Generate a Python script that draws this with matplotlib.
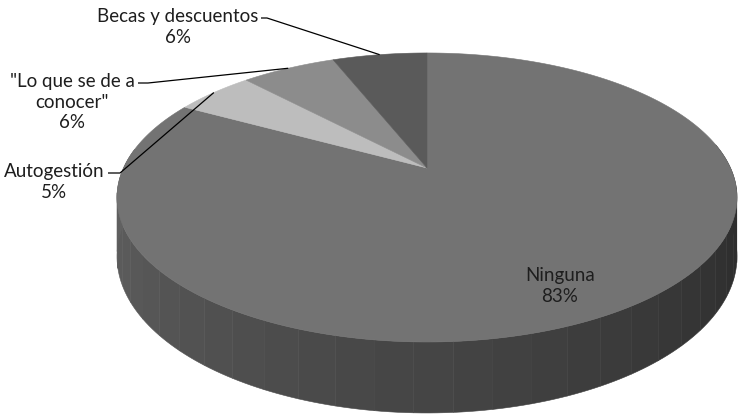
import numpy as np
import matplotlib
matplotlib.use("Agg")
import matplotlib.pyplot as plt
from matplotlib.patches import Polygon

# Data
categories = ["Ninguna", "Autogestión", "\"Lo que se de a\nconocer\"", "Becas y descuentos"]
values = [83, 5, 6, 6]
slice_colors = ["#737373", "#bdbdbd", "#8c8c8c", "#5a5a5a"]

W, H = 741, 420
fig = plt.figure(figsize=(W / 100, H / 100), dpi=100)
ax = fig.add_axes([0, 0, 1, 1])
ax.set_xlim(0, W)
ax.set_ylim(H, 0)
ax.axis("off")

# Perspective view of the pie disc
CX, CY = 427.0, 168.0
A, B, K = 303.5, 138.5, 0.204
DEPTH = 56.5


def project(t, r=1.0, z=0.0):
    t = np.asarray(t)
    u = r * np.sin(t)
    v = r * np.cos(t)
    w = 1 + K * v
    return CX + A * u / w, CY + (-B * v + z) / w


# Side wall, drawn as shaded facets
edges = np.deg2rad(np.arange(80, 281, 6))
for t0, t1 in zip(edges[:-1], edges[1:]):
    ts = np.linspace(t0, t1, 6)
    xt, yt = project(ts)
    xb, yb = project(ts[::-1], z=DEPTH)
    mid = np.rad2deg((t0 + t1) / 2)
    g = np.clip(0.17 + (mid - 100) / 160 * 0.20, 0.16, 0.38)
    pts = np.column_stack([np.r_[xt, xb], np.r_[yt, yb]])
    ax.add_patch(Polygon(pts, closed=True, facecolor=(g, g, g),
                         edgecolor=(g, g, g), lw=0.4, zorder=1))

# Top face slices, clockwise from 12 o'clock
total = sum(values)
start = 0.0
mids = []
for val, col in zip(values, slice_colors):
    span = 2 * np.pi * val / total
    ts = np.linspace(start, start + span, max(int(val * 4), 8))
    xs, ys = project(ts)
    pts = np.column_stack([np.r_[CX, xs], np.r_[CY, ys]])
    ax.add_patch(Polygon(pts, closed=True, facecolor=col, edgecolor=col,
                         lw=0.4, zorder=2))
    mids.append(start + span / 2)
    start += span

font = dict(family=["Lato", "DejaVu Sans"], fontsize=13.5, color="#1e1e1e",
            ha="center", va="center", linespacing=1.25, zorder=5)

labels = [f"{c}\n{v}%" for c, v in zip(categories, values)]

# Inside label
ax.text(560, 286, labels[0], **font)

# Outside labels with leader lines
outside = [
    (1, (54, 182), (108, 173), (120, 173)),
    (2, (72, 102), (138, 83), (148, 83)),
    (3, (178, 27), (261, 18), (267, 18)),
]
for idx, (tx, ty), (lx0, ly0), (lx1, ly1) in outside:
    ax.text(tx, ty, labels[idx], **font)
    ex, ey = project(mids[idx])
    ax.plot([lx0, lx1, ex], [ly0, ly1, ey], color="black", lw=0.9,
            solid_capstyle="butt", zorder=4)

fig.savefig("out.png", dpi=100, facecolor="white")
